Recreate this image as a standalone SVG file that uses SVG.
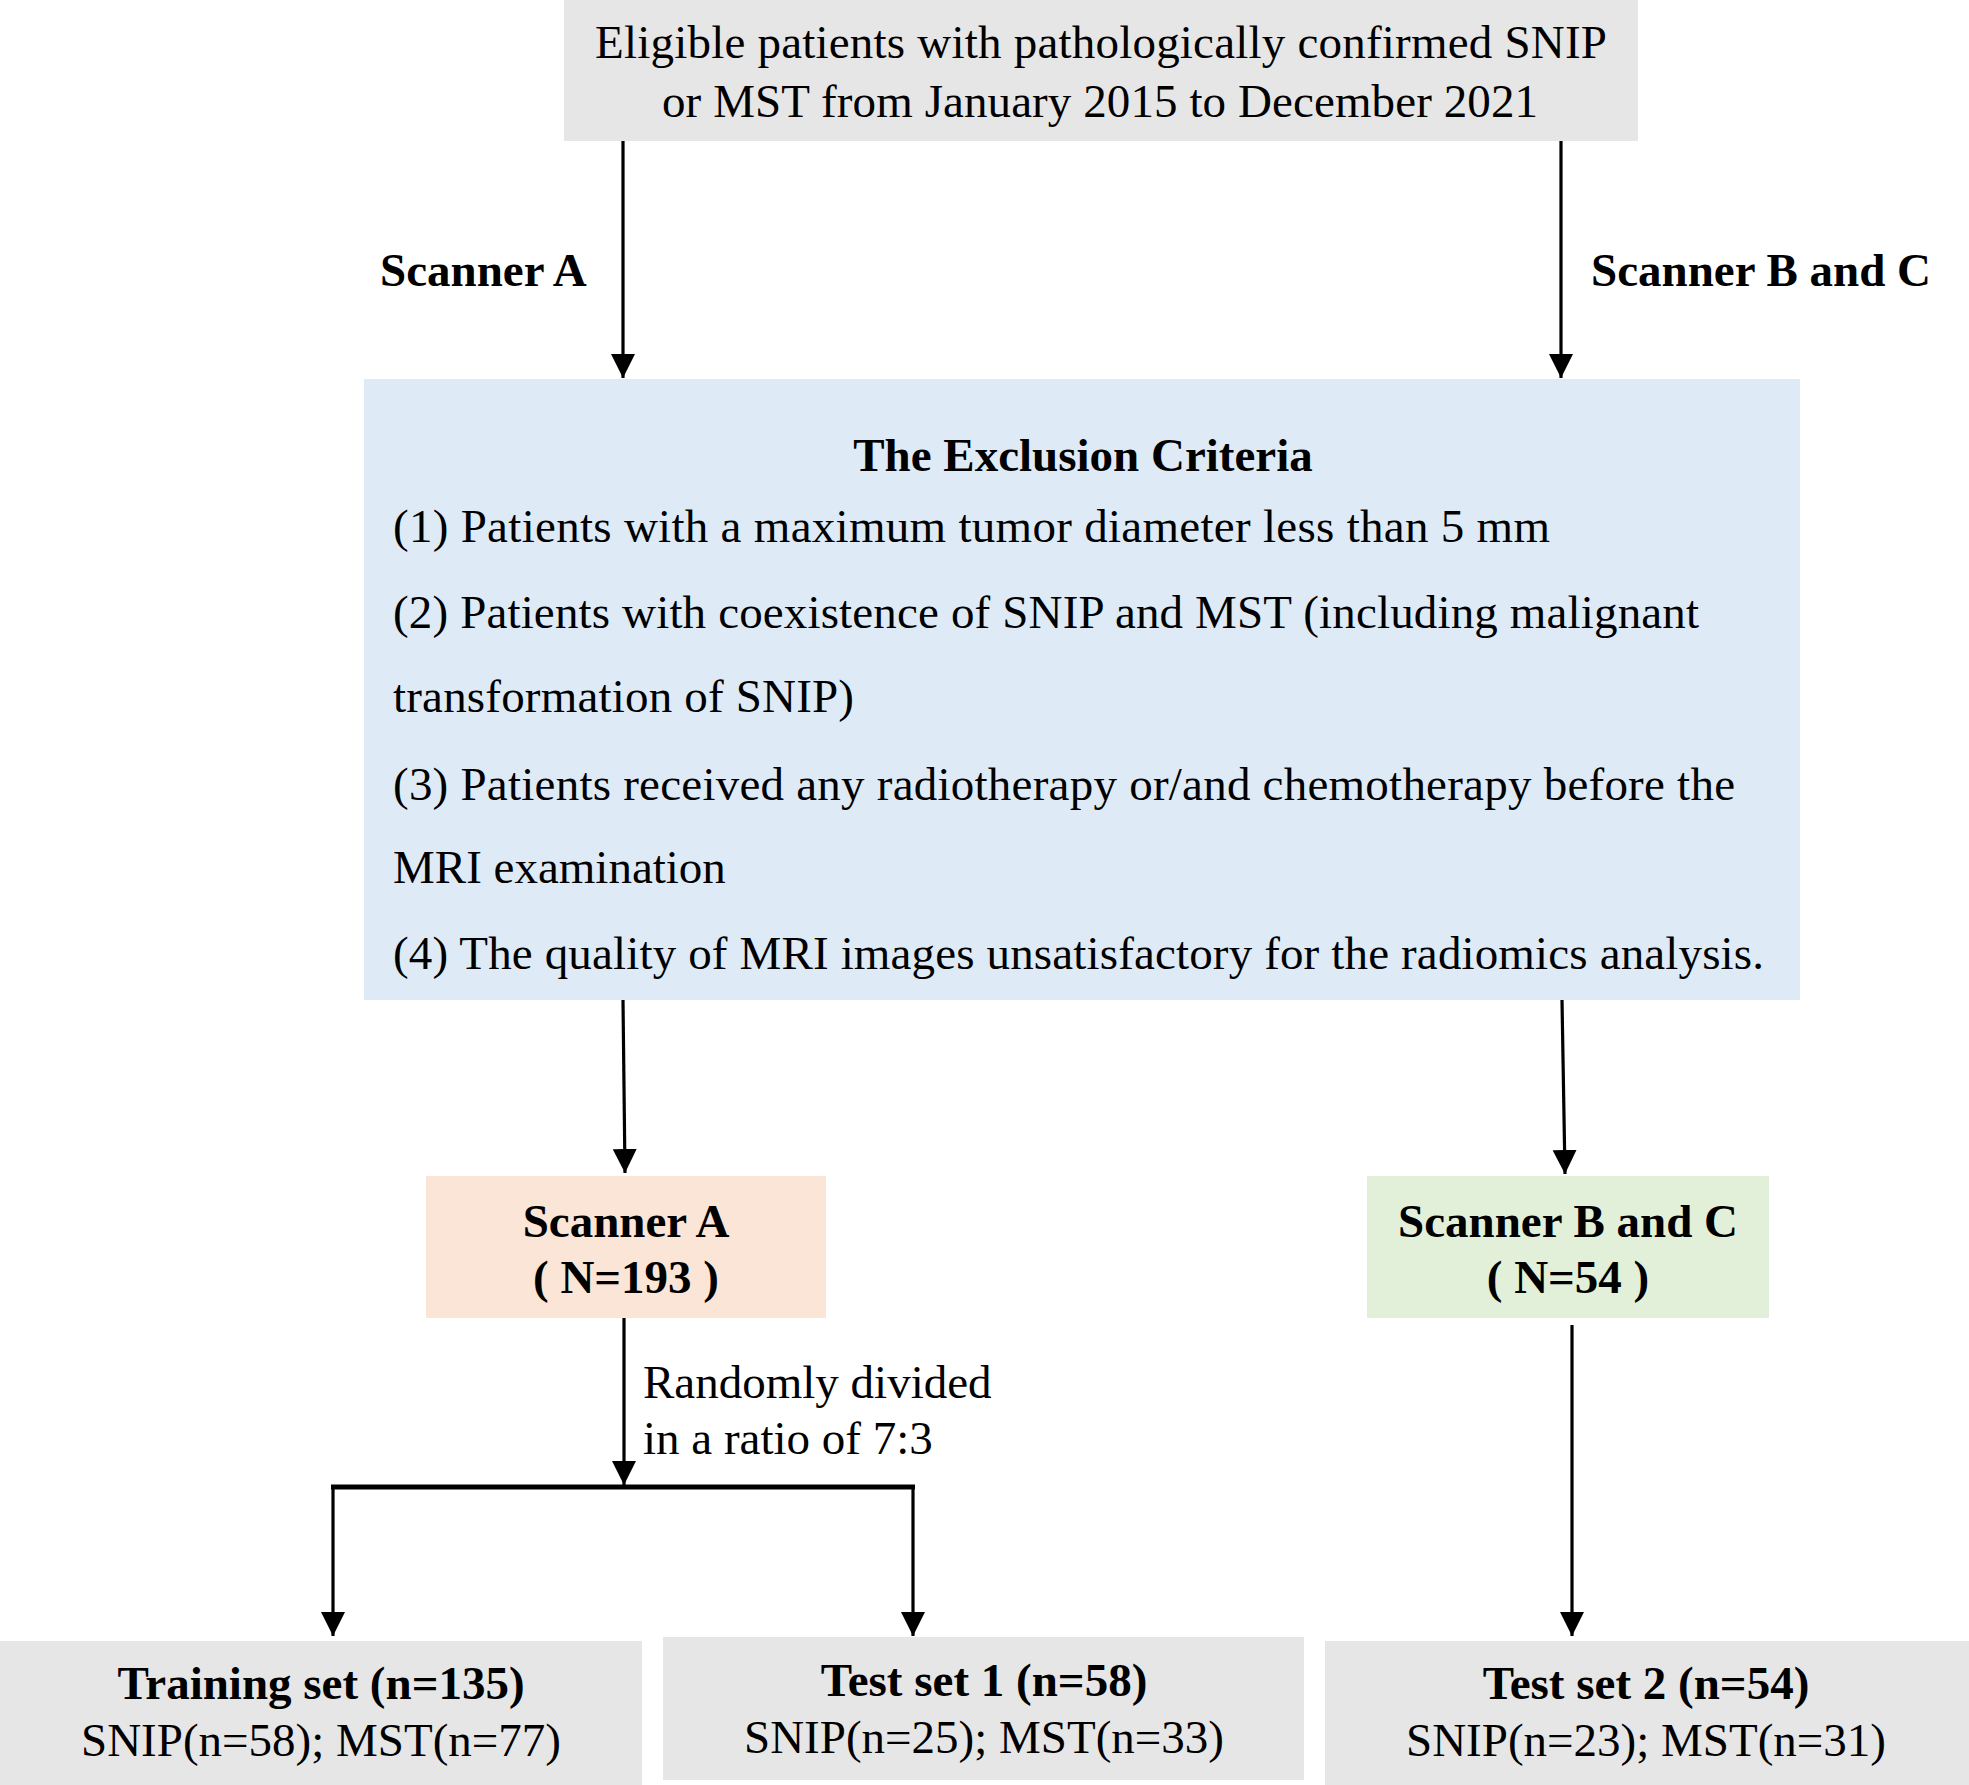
<svg xmlns="http://www.w3.org/2000/svg" width="1969" height="1785" viewBox="0 0 1969 1785">
<style>
.t{font-family:"Liberation Serif","Times New Roman",serif;font-size:47px;fill:#000}
.b{font-weight:bold}
.m{text-anchor:middle}
.c{stroke:#000;stroke-width:3.2;fill:none}
</style>
<defs>
<marker id="ah" markerUnits="userSpaceOnUse" markerWidth="24" markerHeight="24" refX="24" refY="12" orient="auto">
<path d="M0,0 L24,12 L0,24 z" fill="#000"/>
</marker>
</defs>
<rect width="1969" height="1785" fill="#fff"/>
<g id="connectors">
<line class="c" x1="623" y1="141" x2="623" y2="378" marker-end="url(#ah)"/>
<line class="c" x1="1561" y1="141" x2="1561" y2="378" marker-end="url(#ah)"/>
<line class="c" x1="623" y1="1000" x2="625" y2="1173" marker-end="url(#ah)"/>
<line class="c" x1="1562" y1="1000" x2="1565" y2="1174" marker-end="url(#ah)"/>
<line class="c" x1="624" y1="1318" x2="624" y2="1485" marker-end="url(#ah)"/>
<line x1="331" y1="1487" x2="915" y2="1487" stroke="#000" stroke-width="5"/>
<line class="c" x1="333" y1="1487" x2="333" y2="1636" marker-end="url(#ah)"/>
<line class="c" x1="913" y1="1487" x2="913" y2="1636" marker-end="url(#ah)"/>
<line class="c" x1="1572" y1="1325" x2="1572" y2="1636" marker-end="url(#ah)"/>
<text class="t b" x="380" y="286">Scanner A</text>
<text class="t b" x="1591" y="286">Scanner B and C</text>
<text class="t" x="643" y="1398">Randomly divided</text>
<text class="t" x="643" y="1454">in a ratio of 7:3</text>
</g>
<g id="eligible">
<rect x="564" y="0" width="1074" height="141" fill="#E7E6E6"/>
<text class="t m" x="1101" y="58" textLength="1012" lengthAdjust="spacing">Eligible patients with pathologically confirmed SNIP</text>
<text class="t m" x="1100" y="117" textLength="876" lengthAdjust="spacing">or MST from January 2015 to December 2021</text>
</g>
<g id="exclusion">
<rect x="364" y="379" width="1436" height="621" fill="#DEEBF7"/>
<text class="t b m" x="1083" y="471">The Exclusion Criteria</text>
<text class="t" x="393" y="542" textLength="1157" lengthAdjust="spacing">(1) Patients with a maximum tumor diameter less than 5 mm</text>
<text class="t" x="393" y="628" textLength="1306" lengthAdjust="spacing">(2) Patients with coexistence of SNIP and MST (including malignant</text>
<text class="t" x="393" y="712" textLength="461" lengthAdjust="spacing">transformation of SNIP)</text>
<text class="t" x="393" y="800" textLength="1342" lengthAdjust="spacing">(3) Patients received any radiotherapy or/and chemotherapy before the</text>
<text class="t" x="393" y="883">MRI examination</text>
<text class="t" x="393" y="969" textLength="1371" lengthAdjust="spacing">(4) The quality of MRI images unsatisfactory for the radiomics analysis.</text>
</g>
<g id="scannerA">
<rect x="426" y="1176" width="400" height="142" fill="#FBE5D6"/>
<text class="t b m" x="626" y="1237">Scanner A</text>
<text class="t b m" x="626" y="1293">( N=193 )</text>
</g>
<g id="scannerBC">
<rect x="1367" y="1176" width="402" height="142" fill="#E2F0D9"/>
<text class="t b m" x="1568" y="1237">Scanner B and C</text>
<text class="t b m" x="1568" y="1293">( N=54 )</text>
</g>
<g id="training">
<rect x="0" y="1641" width="642" height="144" fill="#E7E6E6"/>
<text class="t b m" x="321" y="1699">Training set (n=135)</text>
<text class="t m" x="321" y="1756">SNIP(n=58); MST(n=77)</text>
</g>
<g id="test1">
<rect x="663" y="1637" width="641" height="143" fill="#E7E6E6"/>
<text class="t b m" x="984" y="1696">Test set 1 (n=58)</text>
<text class="t m" x="984" y="1753">SNIP(n=25); MST(n=33)</text>
</g>
<g id="test2">
<rect x="1325" y="1641" width="644" height="144" fill="#E7E6E6"/>
<text class="t b m" x="1646" y="1699">Test set 2 (n=54)</text>
<text class="t m" x="1646" y="1756">SNIP(n=23); MST(n=31)</text>
</g>
</svg>
